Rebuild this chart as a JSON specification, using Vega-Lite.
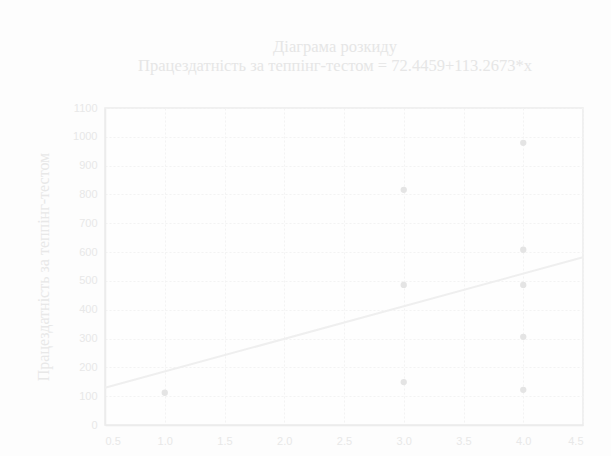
{
  "$schema": "https://vega.github.io/schema/vega-lite/v6.json",
  "autosize": "none",
  "width": 478,
  "height": 317,
  "padding": {"left": 105, "top": 108, "right": 28, "bottom": 31},
  "background": "#fdfdfd",
  "title": {
    "text": ["Діаграма розкиду", "Працездатність за теппінг-тестом = 72.4459+113.2673*x"],
    "font": "Liberation Serif",
    "fontSize": 16.5,
    "fontWeight": "normal",
    "color": "#e6e6e6",
    "lineHeight": 19,
    "offset": 28,
    "anchor": "middle",
    "dx": -9
  },
  "config": {
    "view": {"stroke": "#ececec", "strokeWidth": 1.5, "fill": "#fefefe"},
    "axis": {
      "labelFont": "Liberation Sans",
      "labelFontSize": 11,
      "labelColor": "#e8e8e8",
      "labelOverlap": false,
      "titleFont": "Liberation Serif",
      "titleFontSize": 16,
      "titleFontWeight": "normal",
      "titleColor": "#e8e8e8",
      "domainColor": "#ececec",
      "domainWidth": 1.5,
      "gridColor": "#f3f3f3",
      "gridDash": [2, 2],
      "ticks": false
    }
  },
  "datasets": {
    "pts": [
      {"x": 1, "y": 112},
      {"x": 3, "y": 816},
      {"x": 3, "y": 486},
      {"x": 3, "y": 149},
      {"x": 4, "y": 979},
      {"x": 4, "y": 608},
      {"x": 4, "y": 486},
      {"x": 4, "y": 306},
      {"x": 4, "y": 122}
    ],
    "fit": [
      {"x": 0.5, "y": 129.08},
      {"x": 4.5, "y": 582.15}
    ]
  },
  "layer": [
    {
      "data": {"name": "fit"},
      "mark": {"type": "line", "color": "#efefef", "strokeWidth": 2},
      "encoding": {
        "x": {"field": "x", "type": "quantitative", "scale": {"domain": [0.5, 4.5], "nice": false, "zero": false},
              "axis": {"title": null, "values": [0.5, 1, 1.5, 2, 2.5, 3, 3.5, 4, 4.5], "format": ".1f", "labelPadding": 10}},
        "y": {"field": "y", "type": "quantitative", "scale": {"domain": [0, 1100], "nice": false},
              "axis": {"title": "Працездатність за теппінг-тестом", "values": [0, 100, 200, 300, 400, 500, 600, 700, 800, 900, 1000, 1100], "format": "d", "labelPadding": 8, "titlePadding": 21}}
      }
    },
    {
      "data": {"name": "pts"},
      "mark": {"type": "point", "filled": true, "color": "#e4e4e4", "size": 40, "opacity": 1},
      "encoding": {
        "x": {"field": "x", "type": "quantitative",
              "axis": {"title": null, "values": [0.5, 1, 1.5, 2, 2.5, 3, 3.5, 4, 4.5], "format": ".1f", "labelPadding": 10}},
        "y": {"field": "y", "type": "quantitative",
              "axis": {"title": "Працездатність за теппінг-тестом", "values": [0, 100, 200, 300, 400, 500, 600, 700, 800, 900, 1000, 1100], "format": "d", "labelPadding": 8, "titlePadding": 21}}
      }
    }
  ]
}
